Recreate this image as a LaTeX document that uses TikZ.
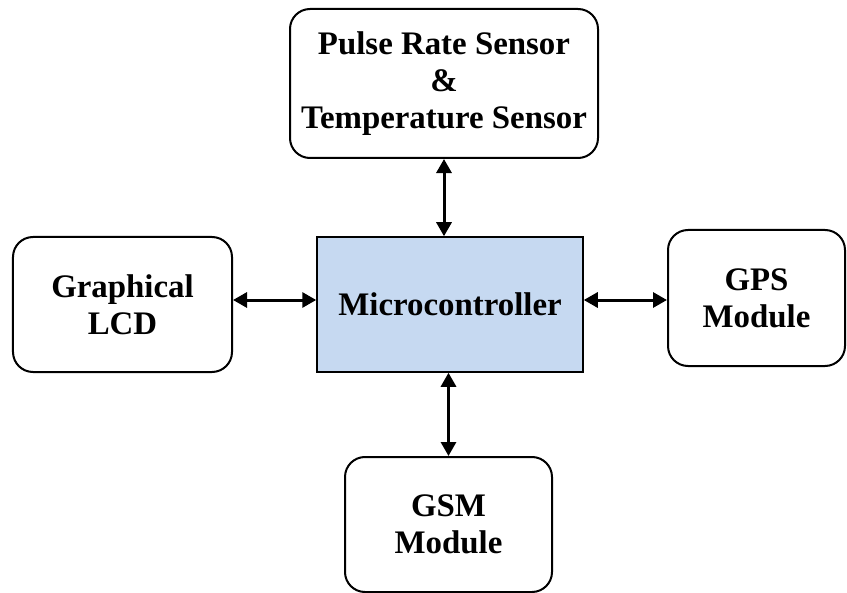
\documentclass[tikz,border=0pt]{standalone}
\usepackage{fontspec}
\setmainfont{Liberation Serif}
\usetikzlibrary{arrows.meta,calc}
\definecolor{microfill}{HTML}{C6D9F1}
\begin{document}
\begin{tikzpicture}[x=1bp,y=-1bp,
  blk/.style={draw=black, line width=2bp, rounded corners=20bp, align=center,
    inner sep=0pt, font=\fontsize{33}{37}\selectfont\bfseries},
  mcu/.style={draw=black, line width=1.5bp, fill=microfill, align=center,
    inner sep=0pt, font=\fontsize{33}{37}\selectfont\bfseries},
  link/.style={line width=3bp, {Triangle[length=14bp,width=15bp]}-{Triangle[length=14bp,width=15bp]}}]
\useasboundingbox (0,0) rectangle (847,593);
\node[blk, minimum width=308bp, minimum height=149bp] (top) at (444,83.5)
  {Pulse Rate Sensor\\\&\\Temperature Sensor};
\node[blk, minimum width=219bp, minimum height=135bp] (lcd) at (122.5,304.5)
  {Graphical\\LCD};
\node[mcu, minimum width=266bp, minimum height=135bp] (micro) at (450,304.5)
  {Microcontroller};
\node[blk, minimum width=177bp, minimum height=136bp] (gps) at (756.5,298)
  {GPS\\Module};
\node[blk, minimum width=207bp, minimum height=135bp] (gsm) at (448.5,524.5)
  {GSM\\Module};
\coordinate (ay) at (0,300);
\draw[link] (top.south) -- (top.south |- micro.north);
\draw[link] (lcd.east |- ay) -- (micro.west |- ay);
\draw[link] (micro.east |- ay) -- (gps.west |- ay);
\draw[link] (gsm.north |- micro.south) -- (gsm.north);
\end{tikzpicture}
\end{document}
